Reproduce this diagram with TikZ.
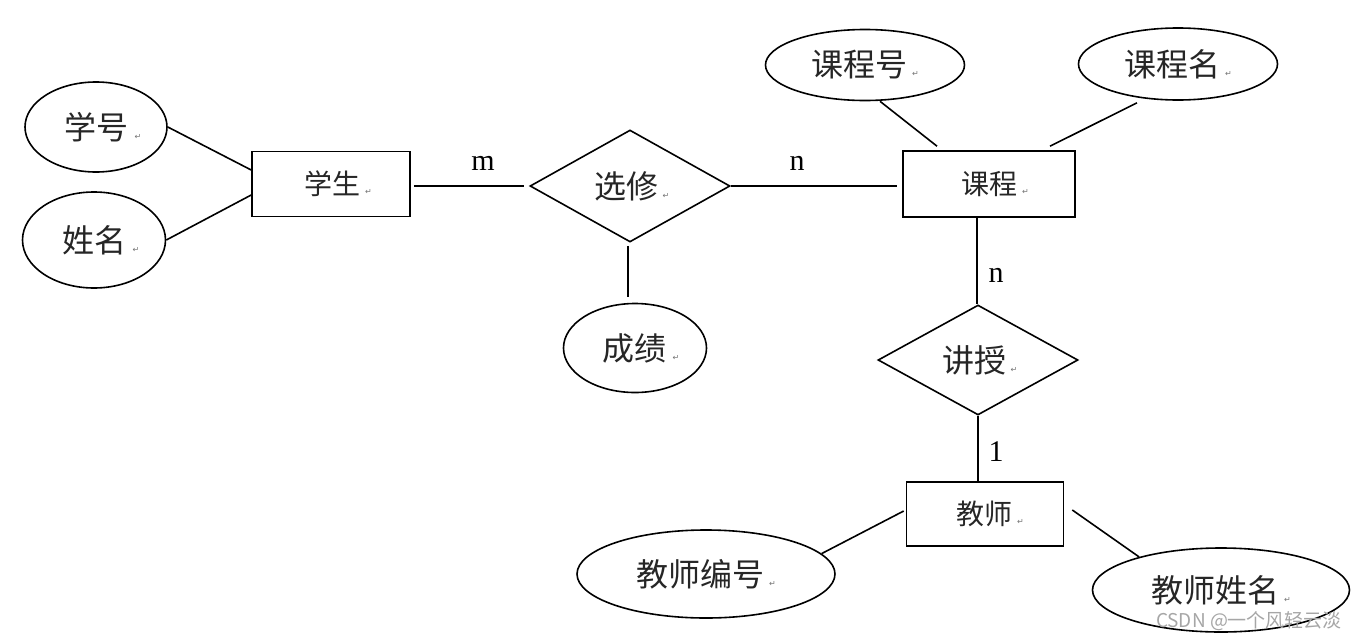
\documentclass[tikz,border=0pt]{standalone}
\usepackage{fontspec}
\usetikzlibrary{shapes.geometric,calc}
\setmainfont{Liberation Serif}
\newfontfamily\cjk{Noto Sans CJK SC}
\newfontfamily\retfont{DejaVu Sans}
\newcommand{\ret}{{\retfont\fontsize{8}{8}\selectfont\color{black!55}↵}}
\tikzset{
  base/.style={draw, line width=1.6pt, inner sep=0pt, text=black!85},
  ent/.style={base, rectangle, font=\cjk\fontsize{28}{28}\selectfont},
  attr/.style={base, ellipse, font=\cjk\fontsize{32}{32}\selectfont},
  rel/.style={base, diamond, font=\cjk\fontsize{32}{32}\selectfont},
  conn/.style={line width=1.6pt},
  card/.style={font=\fontsize{30}{30}\selectfont}
}
\begin{document}
\begin{tikzpicture}[x=1pt,y=-1pt]
\useasboundingbox (0,0) rectangle (1360,640);
% entities
\node[ent, minimum width=158, minimum height=65] (xuesheng) at (331,184) {\hspace{14pt}学生\hspace{5pt}\ret};
\node[ent, minimum width=172, minimum height=66] (kecheng) at (989,184) {\hspace{12pt}课程\hspace{5pt}\ret};
\node[ent, minimum width=157, minimum height=64] (jiaoshi) at (985,514) {\hspace{10pt}教师\hspace{5pt}\ret};
% relationships
\node[rel, minimum width=200, minimum height=112] (xuanxiu) at (630,186) {\hspace{4pt}选修\hspace{4pt}\ret};
\node[rel, minimum width=200, minimum height=110] (jiangshou) at (978,360) {\hspace{4pt}讲授\hspace{4pt}\ret};
% attributes
\node[attr, minimum width=142, minimum height=90] (xuehao) at (96,127) {\hspace{14pt}学号\hspace{6pt}\ret};
\node[attr, minimum width=143, minimum height=96] (xingming) at (94,240) {\hspace{14pt}姓名\hspace{6pt}\ret};
\node[attr, minimum width=143, minimum height=89] (chengji) at (635,348) {\hspace{12pt}成绩\hspace{6pt}\ret};
\node[attr, minimum width=199, minimum height=71] (kch) at (865,65) {课程号\hspace{5pt}\ret};
\node[attr, minimum width=199, minimum height=72] (kcm) at (1178,64) {课程名\hspace{5pt}\ret};
\node[attr, minimum width=258, minimum height=88] (jsbh) at (706,574) {教师编号\hspace{5pt}\ret};
\node[attr, minimum width=257, minimum height=84] (jsxm) at (1221,590) {教师姓名\hspace{5pt}\ret};
% connectors
\draw[conn] (xuehao.east) -- ($(xuesheng.west)+(0,-14)$);
\draw[conn] (xingming.east) -- ($(xuesheng.west)+(0,11)$);
\draw[conn] ($(xuesheng.east)+(3,2)$) -- ($(xuanxiu.west)+(-5,0)$);
\draw[conn] (xuanxiu.east) -- ($(kecheng.west)+(-5,2)$);
\draw[conn] ($(xuanxiu.south)+(-2,3)$) -- ($(chengji.north)+(-7,-6)$);
\draw[conn] ($(kch.south)+(15,0)$) -- ($(kecheng.north)+(-52,-4)$);
\draw[conn] ($(kcm.south)+(-41,2)$) -- ($(kecheng.north)+(61,-4)$);
\draw[conn] ($(kecheng.south)+(-12,0)$) -- ($(jiangshou.north)+(-1,0)$);
\draw[conn] (jiangshou.south) -- ($(jiaoshi.north)+(-7,0)$);
\draw[conn] (jsbh.10) -- ($(jiaoshi.west)+(-2,-3)$);
\draw[conn] (jsxm.158) -- ($(jiaoshi.east)+(8,-4)$);
% cardinalities
\node[card] (c1) at (483,163) {m};
\node[card] (c2) at (797,163) {n};
\node[card] (c3) at (996,275) {n};
\node[card] (c4) at (996,452) {1};
% watermark
\node[text=black!35, font=\cjk\fontsize{19}{19}\selectfont] (wm) at (1249,621) {CSDN @一个风轻云淡};
\end{tikzpicture}
\end{document}
